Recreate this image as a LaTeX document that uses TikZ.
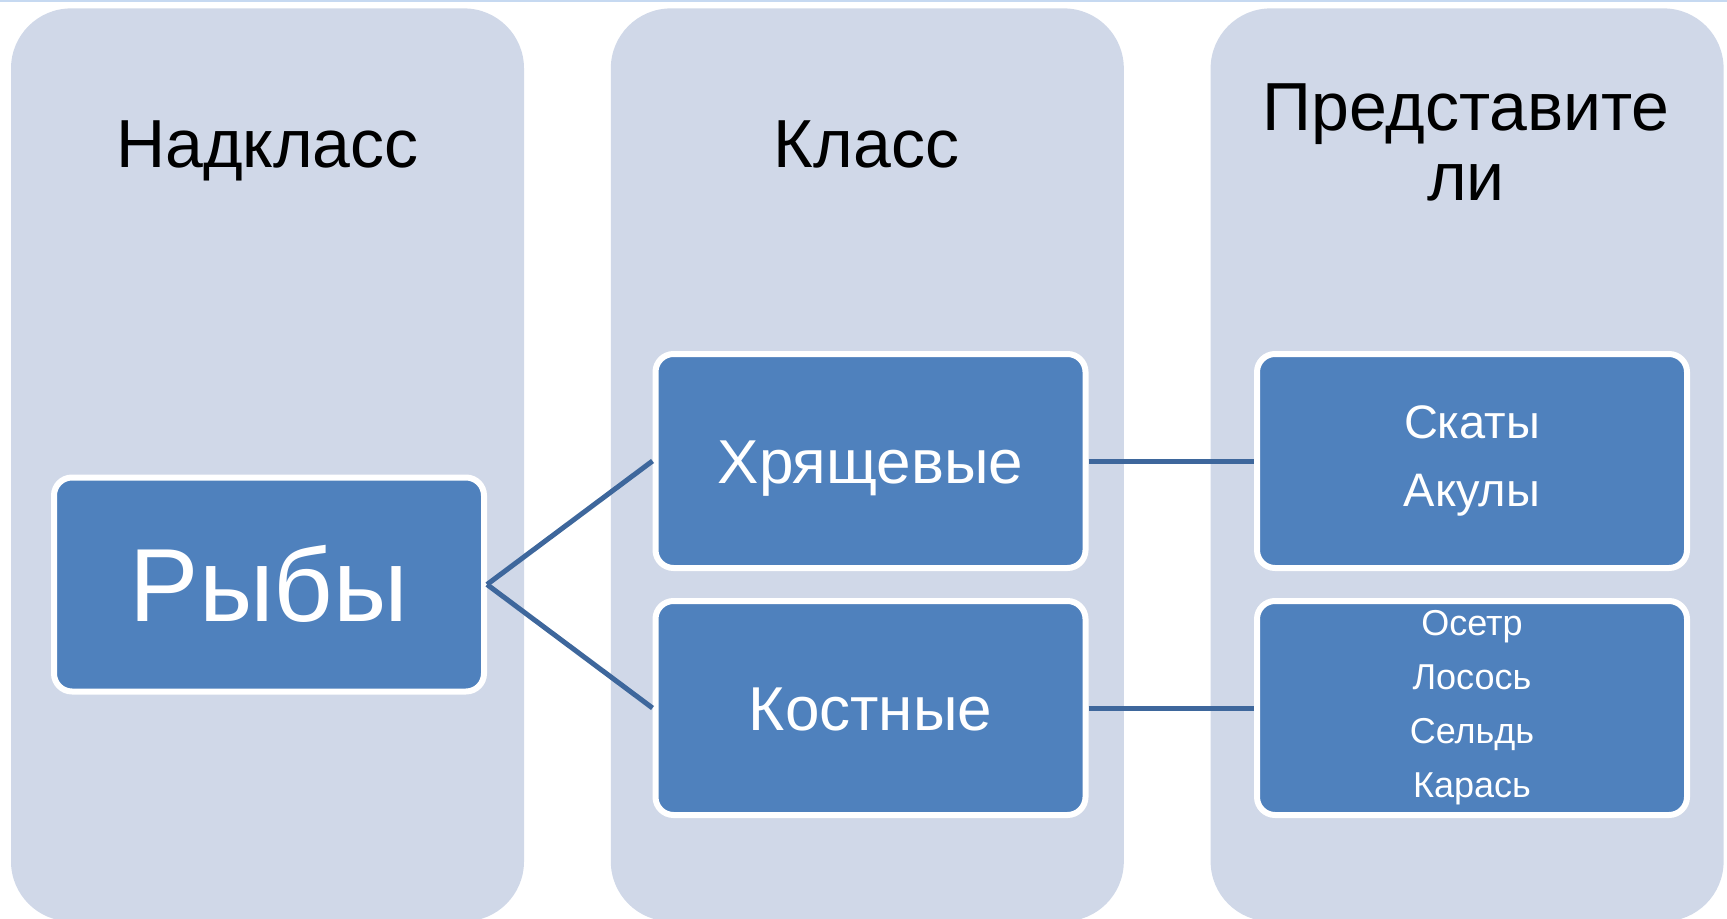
\documentclass[tikz,border=0pt]{standalone}
\usepackage{fontspec}
\setmainfont{Liberation Sans}
\usetikzlibrary{positioning}
\definecolor{colfill}{HTML}{D0D8E8}
\definecolor{boxfill}{HTML}{4F81BD}
\definecolor{linkblue}{HTML}{3E679C}
\definecolor{rulecol}{HTML}{C6D9F1}
\begin{document}
\begin{tikzpicture}
[x=0.5pt,y=-0.5pt,
 column/.style={fill=colfill,rounded corners=30pt,minimum width=256.5pt,
   minimum height=456.5pt,inner sep=0pt},
 head/.style={font=\fontsize{34}{35}\selectfont,align=center,inner sep=0pt},
 fishbox/.style={draw=white,line width=3pt,fill=boxfill,rounded corners=9pt,
   minimum width=215pt,minimum height=107pt,text=white,align=center,inner sep=0pt},
 link/.style={draw=linkblue,line width=2.5pt}]
\useasboundingbox (0,0) rectangle (1727,919);
\fill[rulecol] (0,0) rectangle (1727,2);
\node[column,anchor=north](super) at (267.5,8) {};
\node[column,right=43pt of super](class) {};
\node[column,right=43pt of class](repr) {};
\node[head,anchor=base](hsuper) at (267.5,168) {Надкласс};
\node[head,anchor=base](hclass) at (866.5,168) {Класс};
\node[head,anchor=north](hrepr) at (1466,83) {Представите\\ли};
\node[fishbox,text height=37pt,text depth=0pt,font=\fontsize{52}{52}\selectfont](fish) at (269,584.5) {Рыбы};
\node[fishbox,text height=22.3pt,text depth=0pt,font=\fontsize{31}{31}\selectfont](cart) at (870.5,461) {Хрящевые};
\node[fishbox,text height=22.3pt,text depth=0pt,font=\fontsize{31}{31}\selectfont](bony) at (870.5,708) {Костные};
\node[fishbox,font=\fontsize{23.5}{34}\selectfont](rays) at (1472,461) {Скаты\\Акулы};
\node[fishbox,font=\fontsize{18}{27}\selectfont](bonyfish) at (1472,708) {Осетр\\Лосось\\Сельдь\\Карась};
\path[link] (fish.east) -- (cart.west);
\path[link] (fish.east) -- (bony.west);
\path[link] (cart.east) -- (rays.west);
\path[link] (bony.east) -- (bonyfish.west);
\end{tikzpicture}
\end{document}
